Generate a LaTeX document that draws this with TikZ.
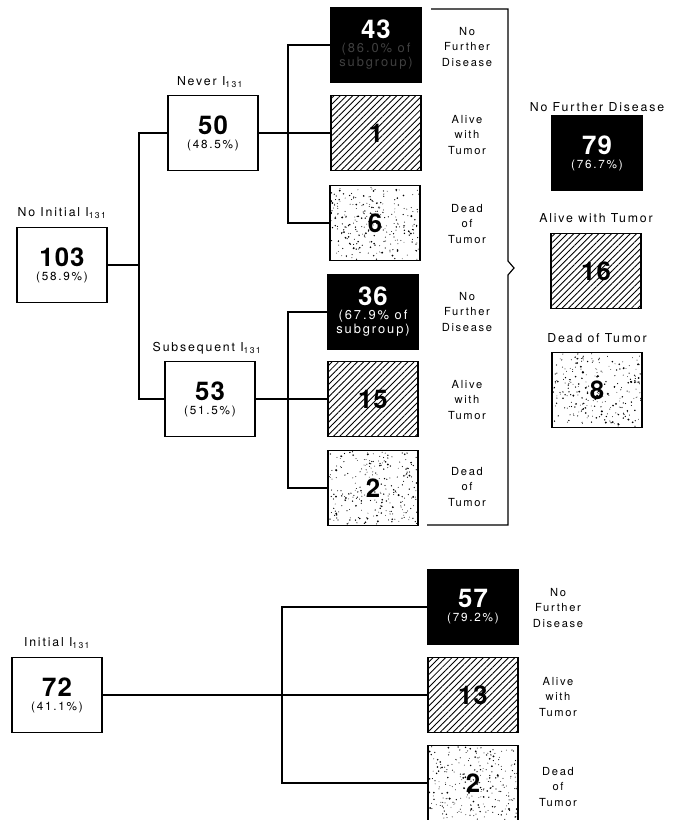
\documentclass[tikz,border=0pt]{standalone}
\usepackage{fontspec}
\setmainfont{TeX Gyre Heros}[LetterSpace=15]
\newfontfamily\digitfont{TeX Gyre Heros}[LetterSpace=4]
\usetikzlibrary{patterns.meta,calc}

\newcommand{\bignum}[1]{{\digitfont\fontsize{22pt}{23pt}\selectfont\bfseries #1}}
\newcommand{\pct}[1]{{\fontsize{10pt}{11pt}\selectfont #1}}
\newcommand{\pctl}[1]{{\fontsize{11pt}{12pt}\selectfont #1}}

\begin{document}
\begin{tikzpicture}[x=0.03cm,y=-0.03cm]
\tikzstyle{every node}=[font=\fontsize{10pt}{12pt}\selectfont]
\tikzstyle{box}=[draw, line width=1.2pt, minimum width=2.7cm, minimum height=2.25cm, inner sep=0pt, align=center]
\tikzstyle{nfd}=[box, fill=black, text=white]
\tikzstyle{awt}=[box, pattern={Lines[angle=45,distance=3.8pt,line width=0.75pt]}]
\tikzstyle{dtm}=[box, path picture={
  \foreach \k in {1,...,260}
    \fill ($(path picture bounding box.center)+({1.32cm*rand},{1.09cm*rand})$) circle[radius={0.35pt+0.65pt*rnd*rnd}];
}]
\tikzstyle{grp}=[font=\fontsize{10.5pt}{12pt}\selectfont]
\tikzstyle{fate}=[align=center, font=\fontsize{9.5pt}{13pt}\selectfont]
\tikzstyle{link}=[line width=1pt]
\pgfmathsetseed{4711}
\useasboundingbox (0,0) rectangle (681,820);

% no initial I131
\node [grp] (lab103) at (62,213) {No Initial I\textsubscript{131}};
\node [box] (n103) at (62,265) {\bignum{103}\\\pct{(58.9\%)}};

\node [grp] (lab50) at (210,82) {Never I\textsubscript{131}};
\node [box] (n50) at (213,133) {\bignum{50}\\\pct{(48.5\%)}};
\node [grp] (lab53) at (207,348) {Subsequent I\textsubscript{131}};
\node [box] (n53) at (210,399) {\bignum{53}\\\pct{(51.5\%)}};

\node [nfd] (n43) at (376,45) {\bignum{43}\\\pctl{\color{black!75}(86.0\% of}\\\pctl{\color{black!75}subgroup)}};
\node [awt] (n1) at (376,133) {\bignum{1}};
\node [dtm] (n6) at (375,223) {\bignum{6}};
\node [nfd] (n36) at (373,312) {\bignum{36}\\\pctl{(67.9\% of}\\\pctl{subgroup)}};
\node [awt] (n15) at (373,399) {\bignum{15}};
\node [dtm] (n2) at (373,488) {\bignum{2}};

\node [fate] (o43) at (467,47) {No\\Further\\Disease};
\node [fate] (o1) at (467,135) {Alive\\with\\Tumor};
\node [fate] (o6) at (467,224) {Dead\\of\\Tumor};
\node [fate] (o36) at (467,312) {No\\Further\\Disease};
\node [fate] (o15) at (467,400) {Alive\\with\\Tumor};
\node [fate] (o2) at (467,487) {Dead\\of\\Tumor};

\coordinate (j1) at (139,265);
\coordinate (j2) at (288,133);
\coordinate (j3) at (288,399);
\draw [link] (n103.east) -- (j1);
\draw [link] (n50.west) -| (j1) |- (n53.west);
\draw [link] (n50.east) -- (n1.west);
\draw [link] (n43.west) -| (j2) |- (n6.west);
\draw [link] (n53.east) -- (n15.west);
\draw [link] (n36.west) -| (j3) |- (n2.west);
\fill (j2) circle[radius=1.4pt];
\fill (j3) circle[radius=1.4pt];

% brace to totals
\coordinate (brtip) at (514,268);
\draw [link] (431,9) -- (508,9) -- (508,261) -- (brtip) -- (508,275) -- (508,525) -- (427,525);

\node [grp] (lab79) at (597,107) {No Further Disease};
\node [nfd] (n79) at (597,153) {\bignum{79}\\\pct{(76.7\%)}};
\node [grp] (lab16) at (596,218) {Alive with Tumor};
\node [awt] (n16) at (596,271) {\bignum{16}};
\node [grp] (lab8) at (597,338) {Dead of Tumor};
\node [dtm] (n8) at (597,390) {\bignum{8}};

% initial I131
\node [grp] (lab72) at (57,643) {Initial I\textsubscript{131}};
\node [box] (n72) at (57,695) {\bignum{72}\\\pct{(41.1\%)}};

\node [nfd] (n57) at (473,607) {\bignum{57}\\\pct{(79.2\%)}};
\node [awt] (n13) at (473,695) {\bignum{13}};
\node [dtm] (n2b) at (473,783) {\bignum{2}};

\node [fate] (o57) at (558,608) {No\\Further\\Disease};
\node [fate] (o13) at (558,697) {Alive\\with\\Tumor};
\node [fate] (o2b) at (558,787) {Dead\\of\\Tumor};

\coordinate (j4) at (282,695);
\draw [link] (n72.east) -- (j4);
\draw [link] (n57.west) -| (j4) |- (n2b.west);
\draw [link] (j4) -- (n13.west);
\fill (j4) circle[radius=1.4pt];
\end{tikzpicture}
\end{document}
